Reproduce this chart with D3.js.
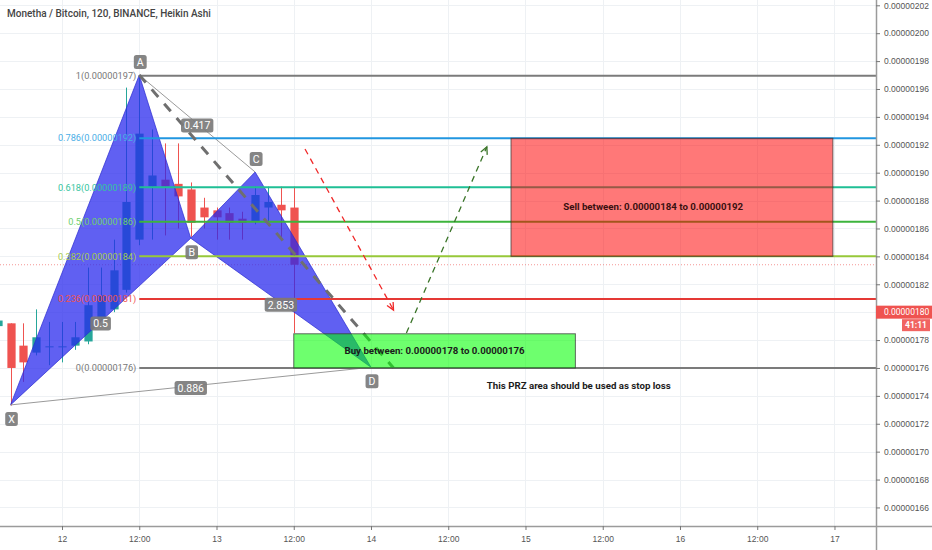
<!DOCTYPE html>
<html>
<head>
<meta charset="utf-8">
<script src="https://cdn.jsdelivr.net/npm/d3@7"></script>
<style>
  body { margin: 0; background: #fff; }
  svg { display: block; font-family: Roboto, "Liberation Sans", sans-serif; }
</style>
</head>
<body>
<svg id="chart" width="932" height="550"></svg>
<script>
// MTH/BTC, 2h Heikin Ashi candles. Prices are in satoshi (1e-8 BTC).
const candleTimes = [
  "2019-02-11T14:00", "2019-02-11T16:00", "2019-02-11T18:00", "2019-02-11T20:00", "2019-02-11T22:00",
  "2019-02-12T00:00", "2019-02-12T02:00", "2019-02-12T04:00", "2019-02-12T06:00", "2019-02-12T08:00",
  "2019-02-12T10:00", "2019-02-12T12:00", "2019-02-12T14:00", "2019-02-12T16:00", "2019-02-12T18:00",
  "2019-02-12T20:00", "2019-02-12T22:00", "2019-02-13T00:00", "2019-02-13T02:00", "2019-02-13T04:00",
  "2019-02-13T06:00", "2019-02-13T08:00", "2019-02-13T10:00", "2019-02-13T12:00"
];
const candleOpen  = [179.0, 179.2, 177.6, 177.1, 177.5, 177.5, 177.6, 177.9, 179.6, 180.2, 181.6, 185.2, 189.0, 189.5, 189.2, 188.8, 187.5, 187.3, 187.1, 186.7, 186.5, 187.5, 187.7, 187.5];
const candleHigh  = [179.6, 179.2, 179.2, 180.2, 179.3, 179.3, 179.3, 183.2, 183.2, 185.2, 196.1, 197.0, 193.1, 192.1, 192.1, 189.3, 188.2, 187.5, 187.5, 187.2, 189.0, 189.0, 189.0, 189.0];
const candleLow   = [178.7, 173.3, 175.0, 176.9, 176.2, 176.4, 177.3, 177.7, 179.4, 180.0, 181.4, 184.8, 185.2, 185.5, 186.0, 185.4, 186.0, 185.2, 185.2, 185.2, 186.3, 186.2, 185.4, 178.5];
const candleClose = [179.4, 176.0, 176.4, 178.2, 177.55, 177.55, 178.2, 180.5, 181.2, 183.0, 187.9, 192.8, 189.8, 189.0, 188.3, 186.4, 186.8, 186.8, 186.4, 186.4, 188.4, 187.9, 187.3, 183.4];

// Harmonic pattern pivots
const pivotNames  = ["X", "A", "B", "C", "D"];
const pivotTimes  = ["2019-02-11T16:00", "2019-02-12T12:00", "2019-02-12T20:00", "2019-02-13T06:00", "2019-02-14T00:00"];
const pivotPrices = [173.35, 197.0, 185.3, 190.05, 176.05];
// Leg ratios: [from pivot, to pivot, ratio]
const legRatios = [["X", "B", "0.5"], ["A", "C", "0.417"], ["B", "D", "2.853"], ["X", "D", "0.886"]];

// Fibonacci retracement
const fibLevels = [1, 0.786, 0.618, 0.5, 0.382, 0.236, 0];
const fibColors = ["#7b7b7b", "#2196e0", "#1fbf95", "#3db43d", "#97c83a", "#e53935", "#7b7b7b"];
const fibLabelColors = ["#777", "#4aaee6", "#35c49e", "#6fcf6f", "#a7cc50", "#ef5350", "#777"];
const fibLowPrice = 176.0, fibHighPrice = 196.95, fibStart = "2019-02-12T12:00";

// Trend line and forecast arrows: [startTime, startPrice, endTime, endPrice]
const trendLine  = ["2019-02-12T12:00", 197.0, "2019-02-14T03:30", 176.0];
const sellArrow  = ["2019-02-13T13:45", 191.7, "2019-02-14T03:30", 180.15];
const buyArrow   = ["2019-02-14T05:30", 178.5, "2019-02-14T18:00", 191.85];

// Trading zones
const buyZoneTimes  = ["2019-02-13T12:00", "2019-02-15T07:45"];
const buyZonePrices = [176.0, 178.45];
const sellZoneTimes = ["2019-02-14T21:45", "2019-02-16T23:45"];
const sellZoneLevels = [0.382, 0.786];
const sellTextAt = ["2019-02-15T19:50", 187.6];
const noteText = "This PRZ area should be used as stop loss";
const noteAt = ["2019-02-14T18:00", 174.75];

// Axes
const viewStart = "2019-02-11T14:22", viewEnd = "2019-02-17T06:27";
const priceMin = 164.67, priceMax = 202.38;
const priceTicks = d3.range(166, 203, 2);
const lastPrice = 180.0, countdown = "41:11";
const title = "Monetha / Bitcoin, 120, BINANCE, Heikin Ashi";

// ---------------------------------------------------------------
const parse = d3.utcParse("%Y-%m-%dT%H:%M");
const fmtPrice = v => (v * 1e-8).toFixed(8);
const W = 932, H = 550, plotR = 876, plotB = 526;

const svg = d3.select("#chart");
const x = d3.scaleUtc().domain([parse(viewStart), parse(viewEnd)]).range([0, plotR]);
const y = d3.scaleLinear().domain([priceMin, priceMax]).range([plotB, 0]);
const fibPrice = lvl => fibLowPrice + lvl * (fibHighPrice - fibLowPrice);

svg.append("defs").append("clipPath").attr("id", "plot")
  .append("rect").attr("width", plotR).attr("height", plotB);

const timeTicks = x.ticks(d3.utcHour.every(12));

// grid
const grid = svg.append("g").attr("stroke", "#eef1f4").attr("stroke-width", 1);
grid.selectAll(".h").data(priceTicks).join("line")
  .attr("x1", 0).attr("x2", plotR).attr("y1", d => Math.round(y(d)) + 0.5).attr("y2", d => Math.round(y(d)) + 0.5);
grid.selectAll(".v").data(timeTicks).join("line")
  .attr("y1", 0).attr("y2", plotB).attr("x1", d => Math.round(x(d)) + 0.5).attr("x2", d => Math.round(x(d)) + 0.5);

const plot = svg.append("g").attr("clip-path", "url(#plot)");

// last Heikin Ashi close line
const lastClose = candleClose[candleClose.length - 1];
plot.append("line").attr("x1", 0).attr("x2", plotR)
  .attr("y1", y(lastClose)).attr("y2", y(lastClose))
  .attr("stroke", "#ef5350").attr("stroke-opacity", 0.6).attr("stroke-dasharray", "1,2");

// candles
const candles = candleTimes.map((t, i) => ({
  t: parse(t), o: candleOpen[i], h: candleHigh[i], l: candleLow[i], c: candleClose[i]
}));
const step = x(parse("2019-02-11T16:00")) - x(parse("2019-02-11T14:00"));
const bw = step * 0.64;
const cg = plot.append("g").selectAll("g").data(candles).join("g")
  .attr("fill", d => d.c >= d.o ? "#26a69a" : "#ef5350")
  .attr("stroke", d => d.c >= d.o ? "#26a69a" : "#ef5350");
cg.append("line")
  .attr("x1", d => Math.round(x(d.t)) + 0.5).attr("x2", d => Math.round(x(d.t)) + 0.5)
  .attr("y1", d => y(d.h)).attr("y2", d => y(d.l)).attr("stroke-width", 1);
cg.append("rect")
  .attr("x", d => Math.round(x(d.t)) + 0.5 - bw / 2).attr("width", bw)
  .attr("y", d => y(Math.max(d.o, d.c)))
  .attr("height", d => Math.max(1, Math.abs(y(d.o) - y(d.c))))
  .attr("stroke", "none");

// harmonic pattern
const piv = {};
pivotNames.forEach((n, i) => piv[n] = { x: x(parse(pivotTimes[i])), y: y(pivotPrices[i]) });
const tri = pts => "M" + pts.map(n => piv[n].x + "," + piv[n].y).join("L") + "Z";
plot.selectAll(".tri").data([["X", "A", "B"], ["B", "C", "D"]]).join("path")
  .attr("d", tri).attr("fill", "#2828ee").attr("fill-opacity", 0.74)
  .attr("stroke", "#2a2ad0").attr("stroke-opacity", 0.7).attr("stroke-width", 1);
plot.selectAll(".leg").data([["X", "D"], ["A", "C"]]).join("line")
  .attr("x1", d => piv[d[0]].x).attr("y1", d => piv[d[0]].y)
  .attr("x2", d => piv[d[1]].x).attr("y2", d => piv[d[1]].y)
  .attr("stroke", "#9a9a9a").attr("stroke-width", 1);

// fibonacci levels
const fx0 = x(parse(fibStart));
plot.selectAll(".fib").data(fibLevels).join("line")
  .attr("x1", fx0).attr("x2", plotR)
  .attr("y1", d => y(fibPrice(d))).attr("y2", d => y(fibPrice(d)))
  .attr("stroke", (d, i) => fibColors[i]).attr("stroke-width", 2);
svg.selectAll(".fibLabel").data(fibLevels).join("text")
  .attr("x", fx0 - 3).attr("y", d => y(fibPrice(d))).attr("dy", "0.35em")
  .attr("text-anchor", "end").attr("font-size", 9.2)
  .attr("fill", (d, i) => fibLabelColors[i])
  .text(d => `${d}(${fmtPrice(fibPrice(d))})`);

// trend line
plot.append("line")
  .attr("x1", x(parse(trendLine[0]))).attr("y1", y(trendLine[1]))
  .attr("x2", x(parse(trendLine[2]))).attr("y2", y(trendLine[3]))
  .attr("stroke", "#6f6f6f").attr("stroke-width", 3).attr("stroke-dasharray", "10,9");

// zones
const sellPrices = sellZoneLevels.map(fibPrice);
const zone = (times, prices, fill, op) => plot.append("rect")
  .attr("x", x(parse(times[0]))).attr("width", x(parse(times[1])) - x(parse(times[0])))
  .attr("y", y(Math.max(...prices))).attr("height", Math.abs(y(prices[0]) - y(prices[1])))
  .attr("fill", fill).attr("fill-opacity", op)
  .attr("stroke", "#3a3a3a").attr("stroke-opacity", 0.75).attr("stroke-width", 1);
zone(buyZoneTimes, buyZonePrices, "#00ff00", 0.57);
zone(sellZoneTimes, sellPrices, "#ff0000", 0.53);

// forecast arrows
function arrow(a, color) {
  const x1 = x(parse(a[0])), y1 = y(a[1]), x2 = x(parse(a[2])), y2 = y(a[3]);
  plot.append("line").attr("x1", x1).attr("y1", y1).attr("x2", x2).attr("y2", y2)
    .attr("stroke", color).attr("stroke-width", 1.3).attr("stroke-dasharray", "6,5");
  const ang = Math.atan2(y2 - y1, x2 - x1), len = 8, spread = 0.45;
  const p = s => [x2 - len * Math.cos(ang + s), y2 - len * Math.sin(ang + s)];
  plot.append("path")
    .attr("d", `M${p(spread)}L${x2},${y2}L${p(-spread)}`)
    .attr("fill", "none").attr("stroke", color).attr("stroke-width", 1.3);
}
arrow(sellArrow, "#f02828");
arrow(buyArrow, "#3a7428");

// zone captions
const bx = (x(parse(buyZoneTimes[0])) + x(parse(buyZoneTimes[1]))) / 2;
const by = (y(buyZonePrices[0]) + y(buyZonePrices[1])) / 2;
const cap = svg.append("g").attr("font-size", 9.7).attr("font-weight", 700).attr("fill", "#1b1b1b");
cap.append("text").attr("x", bx).attr("y", by).attr("dy", "0.35em").attr("text-anchor", "middle")
  .text(`Buy between: ${fmtPrice(buyZonePrices[1])} to ${fmtPrice(buyZonePrices[0])}`);
cap.append("text").attr("x", x(parse(sellTextAt[0]))).attr("y", y(sellTextAt[1])).attr("dy", "0.35em")
  .attr("text-anchor", "middle").attr("fill", "#3a1010")
  .text(`Sell between: ${fmtPrice(sellPrices[0])} to ${fmtPrice(sellPrices[1])}`);
cap.append("text").attr("x", x(parse(noteAt[0]))).attr("y", y(noteAt[1])).attr("dy", "0.35em")
  .text(noteText);

// badges
function badge(cx, cy, label, minW) {
  const g = svg.append("g");
  const t = g.append("text").attr("x", cx).attr("y", cy).attr("dy", "0.36em")
    .attr("text-anchor", "middle").attr("font-size", 10.5).attr("fill", "#fff").text(label);
  const w = Math.max(minW, t.node().getComputedTextLength() + 6);
  g.insert("rect", "text").attr("x", cx - w / 2).attr("y", cy - 7).attr("width", w).attr("height", 14)
    .attr("rx", 2.5).attr("fill", "#7b7b7b").attr("fill-opacity", 0.92);
}
legRatios.forEach(([a, b, r]) => badge((piv[a].x + piv[b].x) / 2, (piv[a].y + piv[b].y) / 2 + 2, r, 14));
const above = { X: false, A: true, B: false, C: true, D: false };
pivotNames.forEach(n => badge(piv[n].x + 1, piv[n].y + (above[n] ? -13 : 14), n, 12));

// axes
svg.append("line").attr("x1", 0).attr("x2", W).attr("y1", plotB + 0.5).attr("y2", plotB + 0.5)
  .attr("stroke", "#9b9b9b").attr("stroke-width", 1.5);
svg.append("line").attr("x1", plotR + 0.5).attr("x2", plotR + 0.5).attr("y1", 0).attr("y2", H)
  .attr("stroke", "#9b9b9b").attr("stroke-width", 1.5);

const xAxis = svg.append("g").attr("transform", `translate(0,${plotB})`)
  .call(d3.axisBottom(x).tickValues(timeTicks).tickSize(4).tickPadding(6)
    .tickFormat(d => d.getUTCHours() === 0 ? d3.utcFormat("%-d")(d) : "12:00"));
xAxis.select(".domain").remove();
xAxis.selectAll("line").attr("stroke", "#777");
xAxis.selectAll("text").attr("font-size", 8.5).attr("fill", "#555").attr("font-family", null);

const yAxis = svg.append("g").attr("transform", `translate(${plotR},0)`)
  .call(d3.axisRight(y).tickValues(priceTicks).tickSize(4).tickPadding(4).tickFormat(fmtPrice));
yAxis.select(".domain").remove();
yAxis.selectAll("line").attr("stroke", "#777");
yAxis.selectAll("text").attr("font-size", 8.5).attr("fill", "#555").attr("font-family", null);

// last price tag and countdown
const lp = svg.append("g");
lp.append("rect").attr("x", plotR).attr("y", y(lastPrice) - 6.5).attr("width", W - plotR).attr("height", 13)
  .attr("fill", "#ef5350");
lp.append("text").attr("x", plotR + 8).attr("y", y(lastPrice)).attr("dy", "0.35em")
  .attr("font-size", 8.5).attr("fill", "#fff").text(fmtPrice(lastPrice));
lp.append("rect").attr("x", 902).attr("y", y(lastPrice) + 7).attr("width", 28).attr("height", 12)
  .attr("fill", "#ef5350").attr("fill-opacity", 0.9);
lp.append("text").attr("x", 916).attr("y", y(lastPrice) + 13).attr("dy", "0.35em").attr("text-anchor", "middle")
  .attr("font-size", 8.5).attr("font-weight", 700).attr("fill", "#fff").text(countdown);

// title
svg.append("text").attr("x", 7).attr("y", 17).attr("font-size", 10).attr("font-weight", 500)
  .attr("fill", "#444").text(title);
</script>
</body>
</html>
